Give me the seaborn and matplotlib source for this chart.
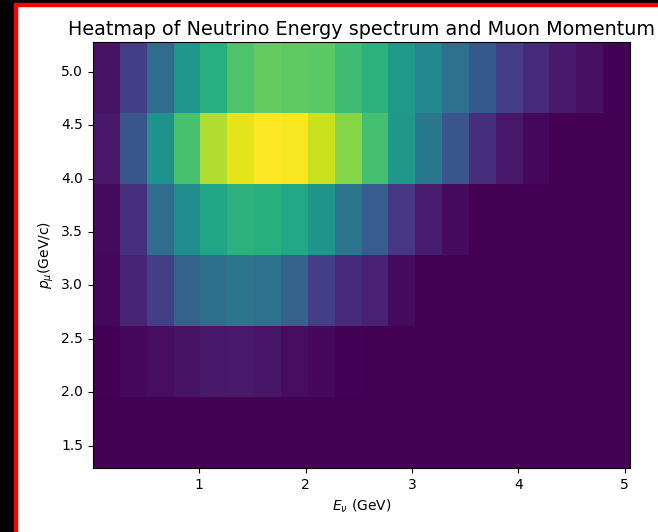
import matplotlib
matplotlib.use("Agg")
import matplotlib.pyplot as plt
from matplotlib.patches import Rectangle
import numpy as np
import pandas as pd
import seaborn as sns

# bin ranges of the 2D histogram
E_MIN, E_MAX, N_E = 0.0, 5.05, 20      # neutrino energy (GeV)
P_MIN, P_MAX, N_P = 1.29, 5.28, 6      # muon momentum (GeV/c)

E_TICKS = [1, 2, 3, 4, 5]
P_TICKS = [1.5, 2.0, 2.5, 3.0, 3.5, 4.0, 4.5, 5.0]

# counts per bin (arbitrary units), one list per momentum row, lowest first
row_p0 = [0, 0, 0, 0, 0, 0, 0, 0, 0, 0, 0, 0, 0, 0, 0, 0, 0, 0, 0, 0]
row_p1 = [0.5, 2, 3.5, 5, 6.5, 7, 5.5, 3.5, 2, 0.5, 0, 0, 0, 0, 0, 0, 0, 0, 0, 0]
row_p2 = [2, 10, 18, 31, 36, 39, 37, 31, 18, 12, 9, 3, 0, 0, 0, 0, 0, 0, 0, 0]
row_p3 = [3, 14, 35, 49, 59, 64, 63, 60, 52, 39, 29, 16, 8, 3, 0, 0, 0, 0, 0, 0]
row_p4 = [6, 26, 51, 71, 88, 96, 100, 99, 92, 82, 70, 53, 40, 26, 13, 6, 2, 0, 0, 0]
row_p5 = [5, 18, 35, 53, 63, 72, 76, 75, 74.5, 69, 64, 54, 47, 37, 28, 18, 12, 7, 4, 0.5]

counts = pd.DataFrame([row_p0, row_p1, row_p2, row_p3, row_p4, row_p5])

fig = plt.figure(figsize=(6.58, 5.32), dpi=100)
ax = fig.add_axes([93 / 658, (532 - 468) / 532, 537 / 658, 426 / 532])

sns.heatmap(counts, cmap="viridis", cbar=False, ax=ax)
ax.invert_yaxis()
for s in ax.spines.values():
    s.set_visible(True)
    s.set_linewidth(0.8)
    s.set_color("black")

dE = (E_MAX - E_MIN) / N_E
dP = (P_MAX - P_MIN) / N_P
ax.set_xticks([(v - E_MIN) / dE for v in E_TICKS])
ax.set_xticklabels([str(v) for v in E_TICKS], rotation=0)
ax.set_yticks([(v - P_MIN) / dP for v in P_TICKS])
ax.set_yticklabels([f"{v:.1f}" for v in P_TICKS], rotation=0)
ax.tick_params(length=3.5, width=0.8, labelsize=10, color="black", labelcolor="black")

ax.set_title("Heatmap of Neutrino Energy spectrum and Muon Momentum", fontsize=13.8, pad=5)
ax.set_xlabel(r"$E_{\nu}$ (GeV)", fontsize=10)
ax.set_ylabel(r"$p_{\mu}$(GeV/c)", fontsize=10)

# screenshot frame on the left and top edges
fig.patches.append(Rectangle((0, 0), 14 / 658, 1, transform=fig.transFigure, color="black", zorder=10))
fig.patches.append(Rectangle((0, 1 - 3 / 532), 1, 3 / 532, transform=fig.transFigure, color="black", zorder=10))
fig.patches.append(Rectangle((14 / 658, 0), 2.5 / 658, 1 - 3 / 532, transform=fig.transFigure, color="red", zorder=11))
fig.patches.append(Rectangle((14 / 658, 1 - 5.5 / 532), 1, 2.5 / 532, transform=fig.transFigure, color="red", zorder=11))

fig.savefig("out.png", dpi=100)
